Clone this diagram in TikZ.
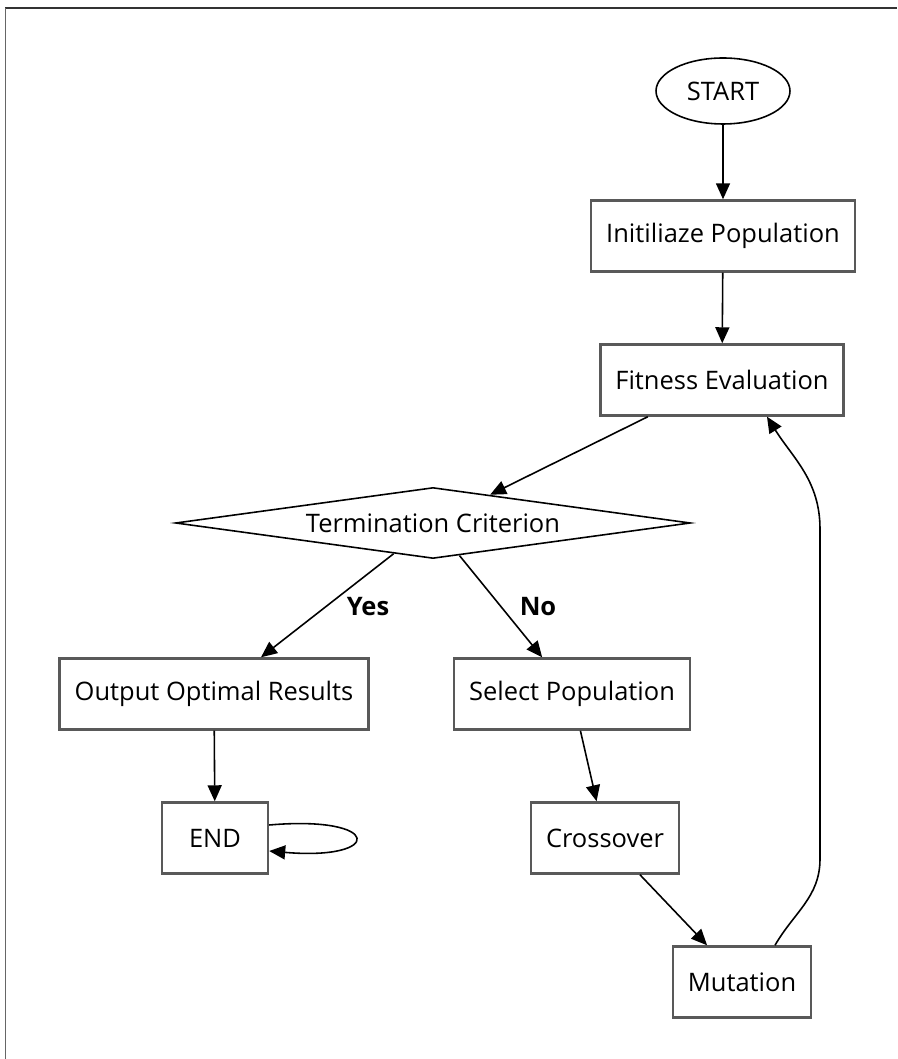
\documentclass[tikz,border=0pt]{standalone}
\usepackage{fontspec}
\setmainfont{Open Sans}
\usepackage{tikz}
\usetikzlibrary{shapes.geometric,arrows.meta}

\begin{document}
\begin{tikzpicture} [x=0.02cm,y=0.02cm,
  box/.style={draw=black!65, line width=1.4pt, rectangle, minimum height=1.42cm, inner xsep=0.3cm, font=\fontsize{14.5pt}{17pt}\selectfont},
  dia/.style={draw=black, line width=0.9pt, diamond, aspect=7.25, minimum width=10.3cm, minimum height=1.42cm, inner sep=0pt, font=\fontsize{14.5pt}{17pt}\selectfont},
  oval/.style={draw=black, line width=0.9pt, ellipse, minimum width=2.68cm, minimum height=1.32cm, inner sep=0pt, font=\fontsize{14.5pt}{17pt}\selectfont},
  arr/.style={-{Triangle[length=0.32cm,width=0.28cm]}, line width=0.9pt, black},
  lab/.style={font=\fontsize{14.5pt}{17pt}\selectfont\bfseries}]
  \useasboundingbox (0,0) rectangle (897,1059);
  \draw[black!80, line width=1.2pt] (5,1051) -- (897,1051); %frame top%
  \draw[black!60, line width=0.5pt] (5,1051) -- (5,0); %frame left%

  \node[oval] (start) at (723,968) {START};
  \node[box] (init) at (723,823) {Initiliaze Population};
  \node[box] (fit) at (722,679) {Fitness Evaluation};
  \node[dia] (term) at (433,536) {Termination Criterion};
  \node[box] (out) at (214,365) {Output Optimal Results};
  \node[box] (sel) at (572,365) {Select Population};
  \node[box, minimum width=2.12cm] (end) at (215,221) {END};
  \node[box] (cross) at (605,221) {Crossover};
  \node[box] (mut) at (742,77) {Mutation};

  \draw[arr] (start) -- (init);
  \draw[arr] (init) -- (fit);
  \draw[arr] (fit) -- (term);
  \draw[arr] (term) -- (out);
  \draw[arr] (term) -- (sel);
  \node[lab] (yes) at (368,452) {Yes};
  \node[lab] (no) at (538,452) {No};
  \draw[arr] (out) -- (end);
  \draw[arr] (sel) -- (cross);
  \draw[arr] (cross) -- (mut);

  %loop back to evaluation%
  \draw[arr] ([xshift=0.66cm]mut.north) to[out=60,in=-90] (820,200) -- (820,530) to[out=90,in=-58] ([xshift=0.9cm]fit.south);
  %self loop%
  \draw[arr] ([yshift=0.26cm]end.east) to[out=5,in=-5,distance=2.3cm] ([yshift=-0.26cm]end.east);
\end{tikzpicture}
\end{document}
